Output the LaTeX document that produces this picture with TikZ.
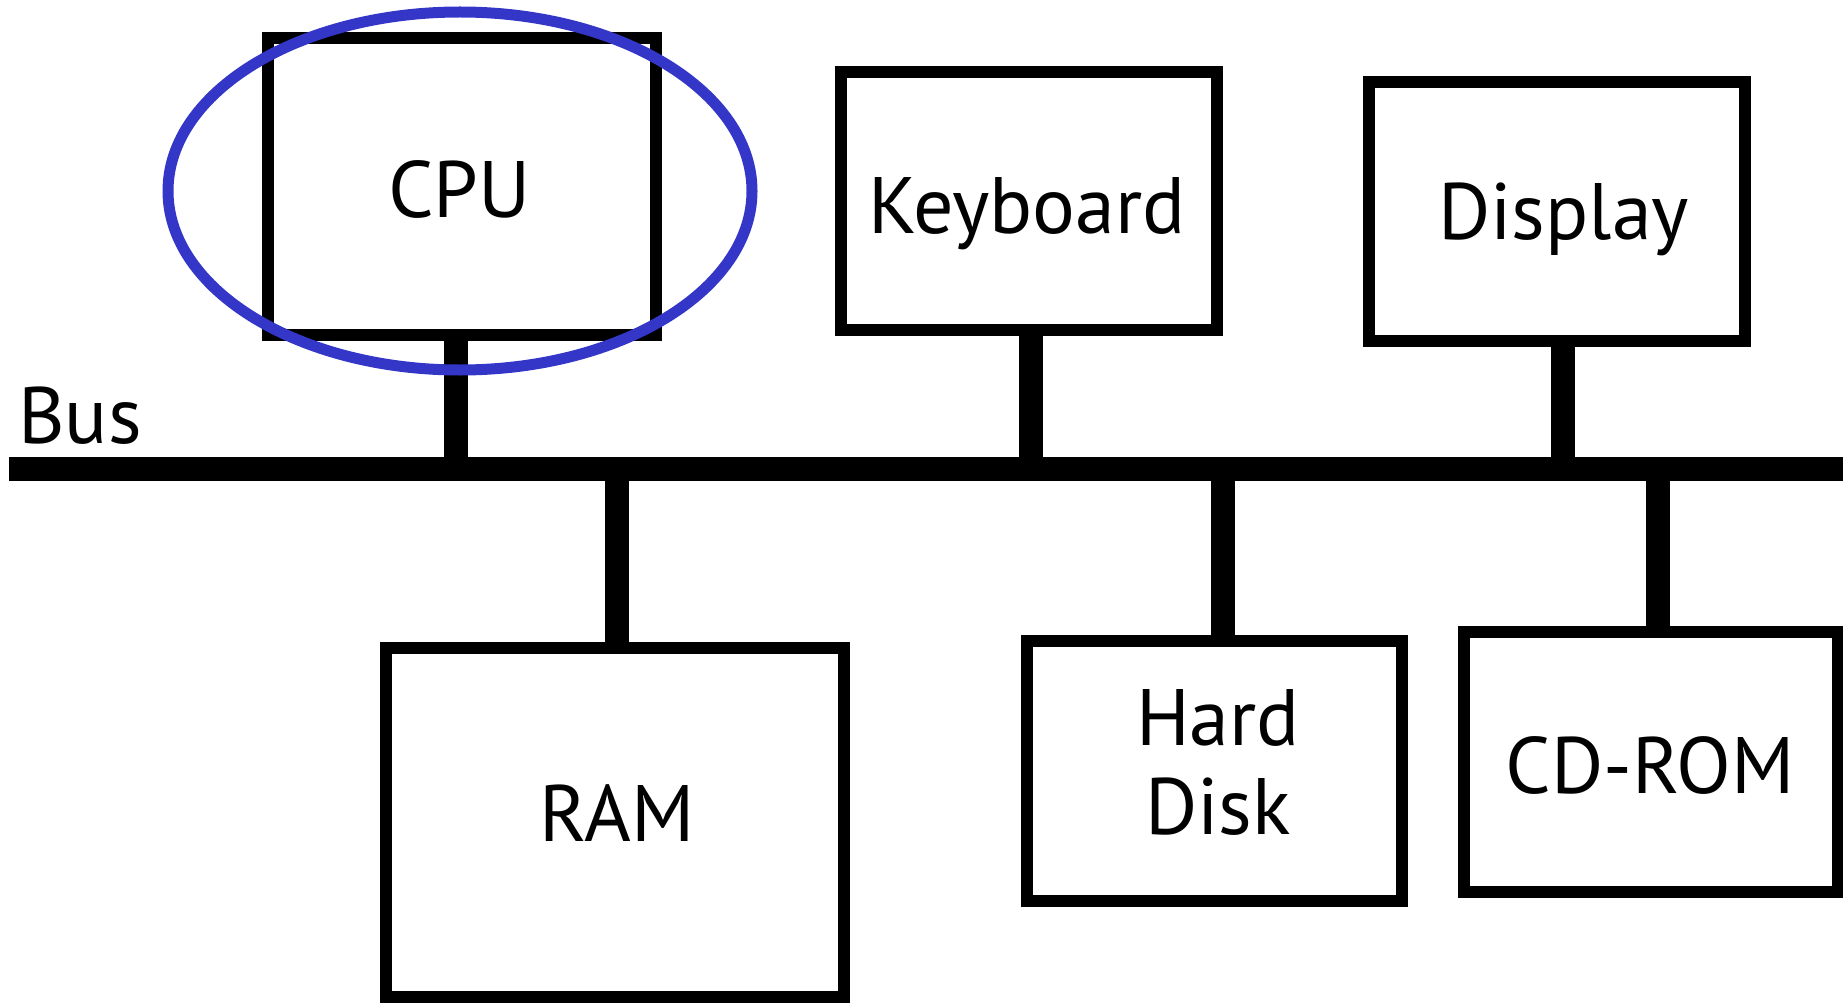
\documentclass[tikz,border=0pt]{standalone}
\usepackage{fontspec}
\setmainfont{PT Sans}
\definecolor{ringblue}{RGB}{52,54,200}
\begin{document}
\begin{tikzpicture}[x=1pt,y=-1pt,
  box/.style={draw=black, line width=12pt, rectangle, fill=white, inner sep=0pt},
  stem/.style={line width=24pt, draw=black},
  busline/.style={line width=24pt, draw=black},
  lbl/.style={inner sep=0pt, anchor=base, font=\fontsize{80}{89}\selectfont},
  ring/.style={draw=ringblue, line width=11pt}]
\useasboundingbox (0,0) rectangle (1843,1003);
% bus
\coordinate (busL) at (9,469);
\coordinate (busR) at (1850,469);
\draw[busline] (busL) -- (busR);
% boxes
\node[box, minimum width=388pt, minimum height=297pt] (cpu) at (462,186.5) {};
\node[box, minimum width=376pt, minimum height=258pt] (kbd) at (1029,200.7) {};
\node[box, minimum width=376pt, minimum height=259pt] (dsp) at (1557,211.7) {};
\node[box, minimum width=458pt, minimum height=349pt] (ram) at (615,822.5) {};
\node[box, minimum width=375pt, minimum height=260pt] (hd) at (1214.2,770.5) {};
\node[box, minimum width=374pt, minimum height=260pt] (cd) at (1651,762) {};
% stems
\draw[stem] ([xshift=-6pt]cpu.south) -- ([xshift=-6pt]cpu.south |- busL);
\draw[stem] ([xshift=2pt]kbd.south) -- ([xshift=2pt]kbd.south |- busL);
\draw[stem] ([xshift=6pt]dsp.south) -- ([xshift=6pt]dsp.south |- busL);
\draw[stem] ([xshift=2pt]ram.north) -- ([xshift=2pt]ram.north |- busL);
\draw[stem] ([xshift=9pt]hd.north) -- ([xshift=9pt]hd.north |- busL);
\draw[stem] ([xshift=7pt]cd.north) -- ([xshift=7pt]cd.north |- busL);
% labels
\node[lbl] (tcpu) at (459.5,217) {CPU};
\node[lbl] (tkbd) at (1027,233) {Keyboard};
\node[lbl] (tdsp) at (1563.5,239) {Display};
\node[lbl] (tram) at (617,841.5) {RAM};
\node[lbl, anchor=center, align=center] (thd) at (1218,762.5) {Hard\\Disk};
\node[lbl] (tcd) at (1650,793.6) {CD-ROM};
\node[lbl, anchor=base west] (tbus) at (18,443) {Bus};
% highlight ring
\draw[ring] (460,191) ellipse [x radius=292pt, y radius=179pt];
\end{tikzpicture}
\end{document}
